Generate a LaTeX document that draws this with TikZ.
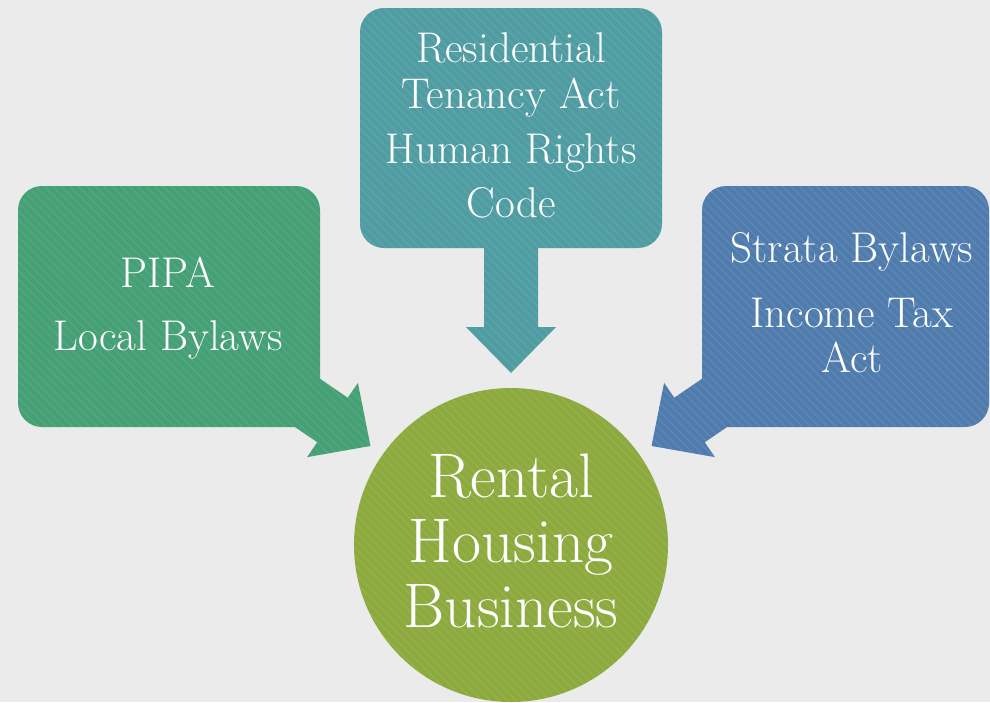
\documentclass[tikz,border=0pt]{standalone}
\usetikzlibrary{patterns.meta,shadows}
\definecolor{bgc}{HTML}{EBEBEB}
\definecolor{cgreen}{HTML}{45A075}
\definecolor{cteal}{HTML}{4F9DA2}
\definecolor{cblue}{HTML}{4F7CAD}
\definecolor{colive}{HTML}{8DAA3E}
\tikzset{
  boxtext/.style={text=white, anchor=base, inner sep=0pt, font=\fontsize{43}{46}\selectfont},
  bigtext/.style={text=white, anchor=base, inner sep=0pt, font=\fontsize{63}{65}\selectfont},
  callbox/.style={rounded corners=24pt, inner sep=0pt, draw=none},
  stripes/.style={pattern={Lines[angle=-45,distance=6pt,line width=1.6pt]}, pattern color=white, opacity=0.07},
}
\newcommand{\callarrow}[4]{%
  \fill[#4, shift={#1}, rotate=#2] (-#3,-27) -- (0,-27) -- (0,-45) -- (46,0) -- (0,45) -- (0,27) -- (-#3,27) -- cycle;
  \fill[stripes, shift={#1}, rotate=#2] (-#3,-27) -- (0,-27) -- (0,-45) -- (46,0) -- (0,45) -- (0,27) -- (-#3,27) -- cycle;}
\begin{document}
\begin{tikzpicture}[x=1pt,y=1pt]
\fill[bgc] (0,0) rectangle (990,-702);
\useasboundingbox (0,0) rectangle (990,-702);
% left callout
\callarrow{(332.5,-420)}{-34.4}{70}{cgreen}
\fill[cgreen, callbox] (18,-186) rectangle (320,-427);
\fill[stripes, callbox] (18,-186) rectangle (320,-427);
% top callout
\callarrow{(511,-327)}{-90}{90}{cteal}
\fill[cteal, callbox] (360,-8) rectangle (662,-248);
\fill[stripes, callbox] (360,-8) rectangle (662,-248);
% right callout
\callarrow{(689.5,-420)}{214.4}{70}{cblue}
\fill[cblue, callbox] (702,-186) rectangle (989,-427);
\fill[stripes, callbox] (702,-186) rectangle (989,-427);
% circle
\node[circle, fill=colive, minimum size=314pt, inner sep=0pt] (hub) at (511,-545) {};
\fill[stripes] (511,-545) circle (157);
% texts
\node[boxtext] (pipa) at (168,-287) {PIPA};
\node[boxtext] (local) at (168,-350) {Local Bylaws};
\node[boxtext] (rta1) at (511,-62) {Residential};
\node[boxtext] (rta2) at (511,-108) {Tenancy Act};
\node[boxtext] (hrc1) at (511,-163) {Human Rights};
\node[boxtext] (hrc2) at (511,-217) {Code};
\node[boxtext] (strata) at (852,-262) {Strata Bylaws};
\node[boxtext] (ita1) at (852,-327) {Income Tax};
\node[boxtext] (ita2) at (852,-372) {Act};
\node[bigtext] (b1) at (511,-497) {Rental};
\node[bigtext] (b2) at (511,-562) {Housing};
\node[bigtext] (b3) at (511,-627) {Business};
\end{tikzpicture}
\end{document}
